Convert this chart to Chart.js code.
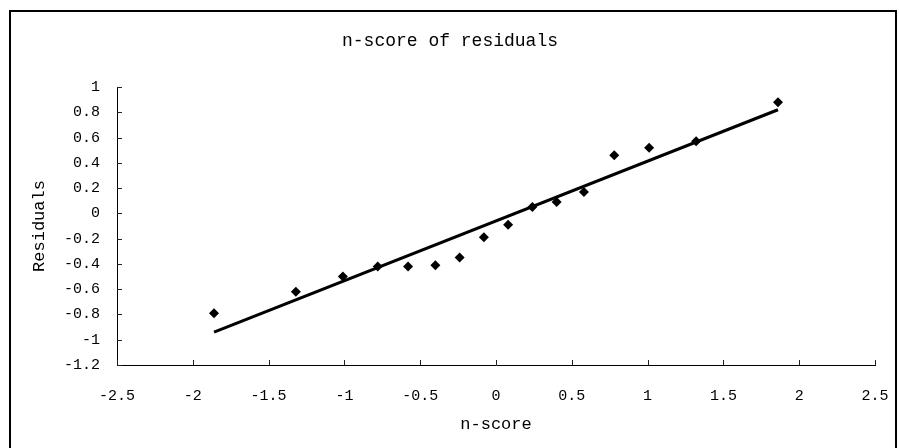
<!DOCTYPE html>
<html>
<head>
<meta charset="utf-8">
<script src="https://cdn.jsdelivr.net/npm/chart.js@4"></script>
<style>
  html, body { margin: 0; padding: 0; background: #fff; }
  #wrap { width: 899px; height: 448px; position: relative; }
</style>
</head>
<body>
<div id="wrap"><canvas id="chart" width="899" height="448"></canvas></div>
<script>
// Normal scores of the residuals and the residuals themselves
const nScore = [-1.86, -1.32, -1.01, -0.78, -0.58, -0.40, -0.24, -0.08, 0.08, 0.24, 0.40, 0.58, 0.78, 1.01, 1.32, 1.86];
const residuals = [-0.79, -0.62, -0.50, -0.42, -0.42, -0.41, -0.35, -0.19, -0.09, 0.05, 0.09, 0.17, 0.46, 0.52, 0.57, 0.88];

// End points of the fitted straight line
const fitX = [-1.86, 1.86];
const fitY = [-0.94, 0.82];

// Axis ranges and steps
const xTicks = { min: -2.5, max: 2.5, step: 0.5 };
const yTicks = { min: -1.2, max: 1, step: 0.2 };

const chartTitle = 'n-score of residuals';
const xTitle = 'n-score';
const yTitle = 'Residuals';

const FONT = '"Liberation Mono", "DejaVu Sans Mono", monospace';
const INK = '#000';

const fmt = v => Number(Number(v).toFixed(1)).toString();

// Frame, title and inward tick marks
const decor = {
  id: 'decor',
  beforeDraw(chart) {
    const { ctx, width, height } = chart;
    ctx.save();
    ctx.fillStyle = '#fff';
    ctx.fillRect(0, 0, width, height);
    ctx.restore();
  },
  afterDraw(chart) {
    const { ctx, chartArea } = chart;
    const xs = chart.scales.x, ys = chart.scales.y;
    ctx.save();
    // outer frame
    ctx.strokeStyle = INK;
    ctx.lineWidth = 2;
    ctx.beginPath();
    ctx.moveTo(10, 448);
    ctx.lineTo(10, 11);
    ctx.lineTo(896, 11);
    ctx.lineTo(896, 448);
    ctx.stroke();
    // chart title
    ctx.fillStyle = INK;
    ctx.font = '18px ' + FONT;
    ctx.textAlign = 'center';
    ctx.textBaseline = 'middle';
    ctx.fillText(chartTitle, 450, 41);
    // tick marks pointing into the plot
    ctx.lineWidth = 1;
    ctx.strokeStyle = '#222';
    ctx.beginPath();
    xs.ticks.forEach(t => {
      const px = Math.round(xs.getPixelForValue(t.value)) + 0.5;
      ctx.moveTo(px, chartArea.bottom);
      ctx.lineTo(px, chartArea.bottom - 5);
    });
    ys.ticks.forEach(t => {
      const py = Math.round(ys.getPixelForValue(t.value)) + 0.5;
      ctx.moveTo(chartArea.left, py);
      ctx.lineTo(chartArea.left + 5, py);
    });
    ctx.stroke();
    ctx.restore();
  }
};

new Chart(document.getElementById('chart'), {
  type: 'scatter',
  data: {
    datasets: [
      {
        label: 'Residuals',
        data: nScore.map((x, i) => ({ x, y: residuals[i] })),
        pointStyle: 'rectRot',
        pointRadius: 5,
        pointHoverRadius: 5,
        backgroundColor: INK,
        borderColor: INK,
        borderWidth: 0,
        showLine: false
      },
      {
        label: 'Fit',
        type: 'line',
        data: fitX.map((x, i) => ({ x, y: fitY[i] })),
        borderColor: INK,
        borderWidth: 3,
        pointRadius: 0,
        fill: false,
        tension: 0
      }
    ]
  },
  options: {
    responsive: false,
    animation: false,
    events: [],
    layout: { padding: { top: 87, right: 24, bottom: 0, left: 0 } },
    plugins: {
      legend: { display: false },
      tooltip: { enabled: false },
      title: { display: false }
    },
    scales: {
      x: {
        type: 'linear',
        position: 'bottom',
        min: xTicks.min,
        max: xTicks.max,
        afterFit(s) { s.height = 83; s.paddingLeft = 0; s.paddingRight = 0; },
        grid: { display: true, drawOnChartArea: false, drawTicks: false },
        border: { display: true, color: INK, width: 1 },
        ticks: {
          stepSize: xTicks.step,
          padding: 22,
          color: INK,
          font: { family: FONT, size: 15 },
          maxRotation: 0,
          callback: v => fmt(v)
        },
        title: {
          display: true,
          text: xTitle,
          color: INK,
          font: { family: FONT, size: 17 },
          padding: { top: 0, bottom: 13 }
        }
      },
      y: {
        type: 'linear',
        position: 'left',
        min: yTicks.min,
        max: yTicks.max,
        afterFit(s) { s.width = 117; s.paddingTop = 0; s.paddingBottom = 0; },
        grid: { display: true, drawOnChartArea: false, drawTicks: false },
        border: { display: true, color: INK, width: 1 },
        ticks: {
          stepSize: yTicks.step,
          padding: 17,
          color: INK,
          font: { family: FONT, size: 15 },
          callback: v => fmt(v)
        },
        title: {
          display: true,
          text: yTitle,
          color: INK,
          font: { family: FONT, size: 17 },
          padding: { top: 29, bottom: 0 }
        }
      }
    }
  },
  plugins: [decor]
});
</script>
</body>
</html>
